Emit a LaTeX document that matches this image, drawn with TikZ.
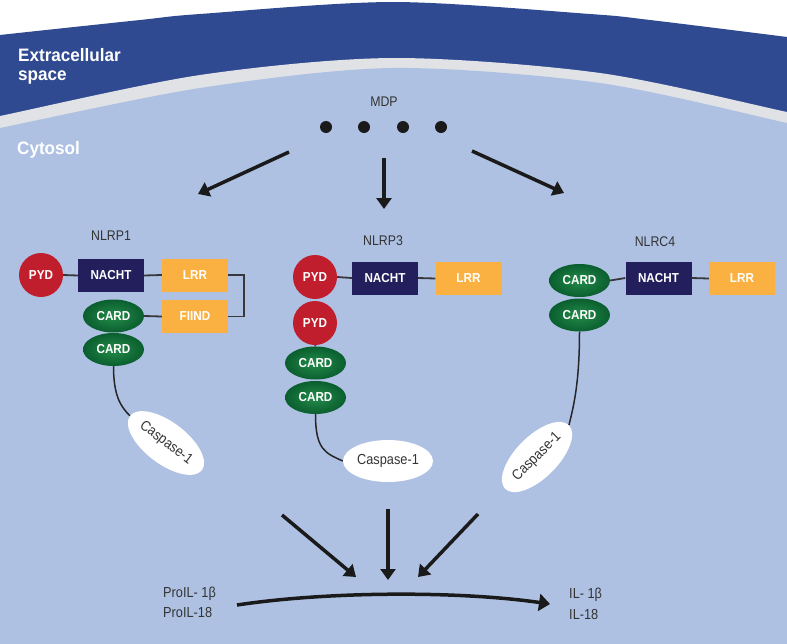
\documentclass[tikz,border=0pt]{standalone}
\usepackage{fontspec}
\setmainfont{Liberation Sans}
\newfontfamily\condfont[FakeStretch=0.88]{Liberation Sans}
\newfontfamily\condbold[FakeStretch=0.9]{Liberation Sans Bold}
\newfontfamily\zonefont[FakeStretch=0.95]{Liberation Sans Bold}
\usetikzlibrary{shapes.geometric,arrows.meta}
\definecolor{darkband}{RGB}{48,74,145}
\definecolor{greyband}{RGB}{224,226,230}
\definecolor{cytosol}{RGB}{174,193,227}
\definecolor{pydred}{RGB}{192,30,45}
\definecolor{nachtblue}{RGB}{35,31,92}
\definecolor{lrrorange}{RGB}{251,176,66}
\definecolor{carddark}{RGB}{10,94,46}
\definecolor{cardlight}{RGB}{36,140,74}
\definecolor{txtgrey}{RGB}{51,51,51}
\definecolor{linkgrey}{RGB}{55,55,60}
\definecolor{arrowblack}{RGB}{26,26,26}
\tikzset{
  dom/.style={inner sep=0pt, text=white, font=\condbold\fontsize{13}{15}\selectfont},
  pyd/.style={dom, circle, fill=pydred, minimum size=44pt},
  nacht/.style={dom, rectangle, fill=nachtblue, minimum width=66pt, minimum height=33pt},
  lrr/.style={dom, rectangle, fill=lrrorange, minimum width=66pt, minimum height=33pt},
  card/.style={dom, ellipse, minimum width=61pt, minimum height=33pt, inner color=cardlight, outer color=carddark},
  casp/.style={ellipse, fill=white, minimum width=90pt, minimum height=42pt, inner sep=0pt, text=txtgrey, font=\condfont\fontsize{14.5}{16}\selectfont},
  link/.style={draw=linkgrey, line width=1.8pt},
  tether/.style={draw=black!85, line width=1.5pt},
  bigarrow/.style={draw=arrowblack, line width=3.5pt, -{Triangle[length=11pt,width=15pt]}},
  lbl/.style={text=txtgrey, font=\condfont\fontsize{14}{16}\selectfont, inner sep=0pt},
  zone/.style={text=white, font=\zonefont\fontsize{18}{20}\selectfont, inner sep=0pt},
  mdpdot/.style={circle, fill=arrowblack, minimum size=12pt, inner sep=0pt},
}
\begin{document}
\begin{tikzpicture}[x=1pt,y=-1pt]
\useasboundingbox (0,0) rectangle (787,643);
\clip (0,0) rectangle (787,643);
% background bands
\fill[white] (0,0) rectangle (787,643);
\fill[darkband] plot[smooth] coordinates {(-10,37) (0,35) (140,20) (200,14) (393,2) (590,14) (650,20) (787,37) (797,39)} -- (797,650) -- (-10,650) -- cycle;
\fill[greyband] plot[smooth] coordinates {(-10,118) (0,116) (200,75) (393,58) (600,73) (787,112) (797,114)} -- (797,650) -- (-10,650) -- cycle;
\fill[cytosol] plot[smooth] coordinates {(-10,130) (0,128) (200,88) (393,68) (600,83) (787,123) (797,125)} -- (797,650) -- (-10,650) -- cycle;

% zone labels
\node[zone, anchor=base west] (ext1) at (18,61) {Extracellular};
\node[zone, anchor=base west] (ext2) at (18,80) {space};
\node[zone, anchor=base west] (cyto) at (17,154) {Cytosol};

% MDP
\node[lbl] (mdp) at (384,102) {MDP};
\node[mdpdot] (d1) at (326,127) {};
\node[mdpdot] (d2) at (364,127) {};
\node[mdpdot] (d3) at (403,127) {};
\node[mdpdot] (d4) at (441,127) {};

% top arrows
\coordinate (mL0) at (289,152); \coordinate (mL1) at (198,194);
\coordinate (mC0) at (384,158); \coordinate (mC1) at (384,209);
\coordinate (mR0) at (472,151); \coordinate (mR1) at (564,193);
\draw[bigarrow] (mL0) -- (mL1);
\draw[bigarrow] (mC0) -- (mC1);
\draw[bigarrow] (mR0) -- (mR1);

% NLRP1
\node[lbl] (t1) at (111,236) {NLRP1};
\node[pyd] (pyd1) at (41,275) {PYD};
\node[nacht] (nacht1) at (111,275.5) {NACHT};
\node[lrr] (lrr1) at (195,275) {LRR};
\node[lrr] (fiind) at (195,316.5) {FIIND};
\node[card] (card1a) at (113.5,316) {CARD};
\node[card] (card1b) at (113.5,349.5) {CARD};
\node[casp, rotate=-37] (casp1) at (166,443) {Caspase-1};
\draw[link] (pyd1.east) -- (nacht1.west);
\draw[link] (nacht1.east) -- (lrr1.west);
\draw[link] (lrr1.east) -- ++(16,0) |- (fiind.east);
\draw[link] (card1a.east) -- (fiind.west);
\draw[tether] (card1b.south) .. controls +(0,30) and +(-9,-9) .. (casp1.west);

% NLRP3
\node[lbl] (t3) at (383,241) {NLRP3};
\node[pyd] (pyd3a) at (315,277) {PYD};
\node[nacht] (nacht3) at (385,278) {NACHT};
\node[lrr] (lrr3) at (468.5,278.5) {LRR};
\node[pyd] (pyd3b) at (315,323) {PYD};
\node[card] (card3a) at (315.5,363) {CARD};
\node[card] (card3b) at (315.5,397.5) {CARD};
\node[casp] (casp3) at (388,461) {Caspase-1};
\draw[link] (pyd3a.east) -- (nacht3.west);
\draw[link] (nacht3.east) -- (lrr3.west);
\draw[link] (pyd3b.south) -- (card3a.north);
\draw[tether] (card3b.south) .. controls +(0,35) and +(-18,-8) .. (casp3.west);

% NLRC4
\node[lbl] (t4) at (655,242) {NLRC4};
\node[card] (card4a) at (579.5,280.5) {CARD};
\node[nacht] (nacht4) at (658.5,278) {NACHT};
\node[lrr] (lrr4) at (742,278.5) {LRR};
\node[card] (card4b) at (579.5,315) {CARD};
\node[casp, rotate=45] (casp4) at (537,457) {Caspase-1};
\draw[link] (card4a.east) -- (nacht4.west);
\draw[link] (nacht4.east) -- (lrr4.west);
\draw[tether] (card4b.south) .. controls +(0,50) and +(5,-20) .. (casp4.east);

% bottom arrows
\coordinate (bL0) at (282,515); \coordinate (bL1) at (356,577);
\coordinate (bC0) at (388,509); \coordinate (bC1) at (388,580);
\coordinate (bR0) at (478,514); \coordinate (bR1) at (418,577);
\draw[bigarrow] (bL0) -- (bL1);
\draw[bigarrow] (bC0) -- (bC1);
\draw[bigarrow] (bR0) -- (bR1);

% processing arrow
\node[lbl, font=\condfont\fontsize{14.5}{16}\selectfont, anchor=base west] (pro1) at (163,597) {ProIL- 1β};
\node[lbl, font=\condfont\fontsize{14.5}{16}\selectfont, anchor=base west] (pro2) at (163,617) {ProIL-18};
\node[lbl, font=\condfont\fontsize{14.5}{16}\selectfont, anchor=base west] (il1) at (569,598) {IL- 1β};
\node[lbl, font=\condfont\fontsize{14.5}{16}\selectfont, anchor=base west] (il2) at (569,619) {IL-18};
\coordinate (cv0) at (237,605); \coordinate (cv1) at (550,604);
\draw[bigarrow, -{Triangle[length=11pt,width=17pt]}] (cv0) .. controls (330,591) and (460,591) .. (cv1);
\end{tikzpicture}
\end{document}
